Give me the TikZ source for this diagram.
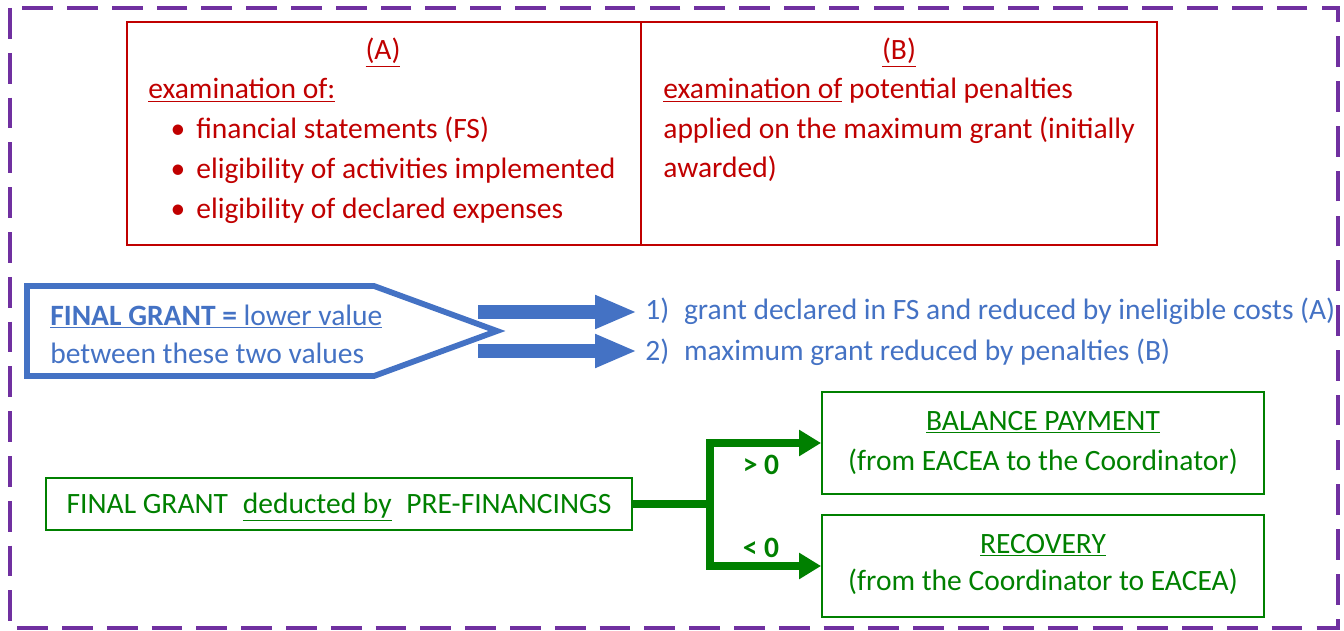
\documentclass[tikz,border=0pt]{standalone}
\usepackage{fontspec}
\setmainfont{Carlito}
\usetikzlibrary{arrows.meta}
\definecolor{exred}{HTML}{C00000}
\definecolor{exblue}{HTML}{4472C4}
\definecolor{exgreen}{HTML}{008000}
\definecolor{expurple}{HTML}{7030A0}
\tikzset{
	txt/.style={inner sep=0pt, font=\fontsize{16.8}{19}\selectfont},
	rtxt/.style={txt, text=exred},
	btxt/.style={txt, text=exblue},
	gtxt/.style={txt, text=exgreen},
	gbox/.style={draw=exgreen, line width=1.1pt},
	gline/.style={draw=exgreen, line width=4pt, line join=miter, -{Triangle[length=0.44cm,width=0.5cm]}},
	barrow/.style={draw=exblue, line width=0.3cm, -{Triangle[length=0.84cm,width=0.62cm]}}
}
\begin{document}
\begin{tikzpicture}[x=0.02cm, y=-0.02cm]
\useasboundingbox (0,0) rectangle (1344,631);
% outer frame
\draw[expurple, line width=2.3pt, dash pattern=on 17.5pt off 8pt] (10,8) rectangle (1338,628);
% (A) and (B)
\draw[exred, line width=1.1pt] (127,22) rectangle (641,245) (641,22) rectangle (1157,245);
\node[rtxt, anchor=base](ta) at (383,60){\underline{(A)}};
\node[rtxt, anchor=base west](exa) at (148,99){\underline{examination of:}};
\foreach \y/\t [count=\i] in {139/financial statements (FS), 179/eligibility of activities implemented, 219/eligibility of declared expenses}{
	\node[rtxt, anchor=base](dot\i) at (178,\y){•};
	\node[rtxt, anchor=base west](it\i) at (196,\y){\t};
}
\node[rtxt, anchor=base](tb) at (899,60){\underline{(B)}};
\node[rtxt, anchor=base west](exb1) at (663,99){\underline{examination of} potential penalties};
\node[rtxt, anchor=base west](exb2) at (663,139){applied on the maximum grant (initially};
\node[rtxt, anchor=base west](exb3) at (663,178){awarded)};
% final grant
\draw[exblue, line width=3.3pt, line join=miter] (27,286) -- (374,286) -- (497,331) -- (374,376) -- (27,376) -- cycle;
\node[btxt, anchor=base west](fg1) at (50,325){\underline{\textbf{FINAL GRANT =} lower value}};
\node[btxt, anchor=base west](fg2) at (50,363){between these two values};
\node[btxt, anchor=base west](v1) at (645,319){1)\enspace grant declared in FS and reduced by ineligible costs (A)};
\node[btxt, anchor=base west](v2) at (645,360){2)\enspace maximum grant reduced by penalties (B)};
\coordinate (s1) at (478,312);
\coordinate (s2) at (478,351);
\draw[barrow] (s1) -- ([xshift=-0.16cm]v1.west |- s1);
\draw[barrow] (s2) -- ([xshift=-0.16cm]v2.west |- s2);
% balance / recovery
\node[gbox, minimum width=11.72cm, minimum height=1.04cm](ded) at (339,504){};
\node[gtxt, anchor=base](dedt) at (339,513){FINAL GRANT\enspace\underline{deducted by}\enspace PRE-FINANCINGS};
\node[gbox, minimum width=8.84cm, minimum height=2.04cm](bal) at (1043,443){};
\node[gtxt, anchor=base](bal1) at (1043,430){\underline{BALANCE PAYMENT}};
\node[gtxt, anchor=base](bal2) at (1043,470){(from EACEA to the Coordinator)};
\node[gbox, minimum width=8.84cm, minimum height=2.04cm](rec) at (1043,566){};
\node[gtxt, anchor=base](rec1) at (1043,553){\underline{RECOVERY}};
\node[gtxt, anchor=base](rec2) at (1043,590){(from the Coordinator to EACEA)};
\coordinate (br) at (710,504);
\draw[gline] (ded.east) -- (br) |- (bal.west);
\draw[gline] (br) |- (rec.west);
\node[gtxt, anchor=base](pos) at (761,474){\textbf{> 0}};
\node[gtxt, anchor=base](neg) at (761,557){\textbf{< 0}};
\end{tikzpicture}
\end{document}
